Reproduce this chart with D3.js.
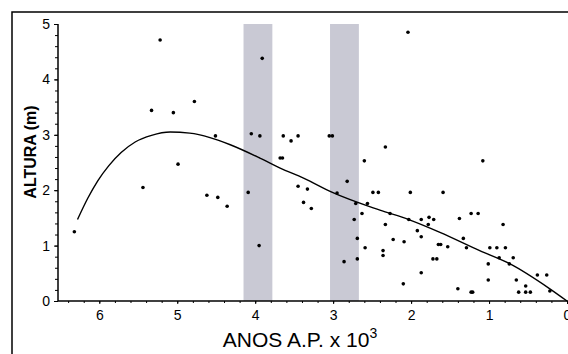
<!DOCTYPE html>
<html>
<head>
	<title>altura</title>
	<script type="text/javascript" src="https://cdn.jsdelivr.net/npm/d3@7"></script>
	<style type="text/css">
		body{ margin: 0; background: #fff; }
		text{ font-family: "Liberation Sans", Arial, sans-serif; fill: #000; }
		.tick text{ font-size: 14px; }
		.axis-title{ font-size: 21px; }
		.y-title{ font-size: 16px; font-weight: bold; }
	</style>
</head>
<body>
<svg width="568" height="354"></svg>
<script type="text/javascript">
	// anos A.P. (x 10^3) e altura (m)
	var anos = [5.22, 5.33, 5.05, 4.78, 4.99, 3.91, 4.51, 4.05, 3.94, 3.64, 3.54, 3.45, 3.05, 3.01, 3.68, 3.65,
		2.60, 2.04, 2.33, 1.08, 6.32, 5.44, 4.62, 4.48, 4.36, 4.09, 3.95, 3.45, 3.33, 3.38, 3.28, 2.82,
		2.95, 2.49, 2.42, 2.01, 1.59, 2.71, 2.56, 2.63, 2.73, 2.27, 2.33, 2.03, 1.87, 1.77, 1.71, 1.78,
		1.92, 1.87, 2.69, 2.23, 2.09, 2.59, 2.36, 2.36, 1.65, 1.62, 1.53, 2.86, 2.69, 1.72, 1.67, 1.87,
		2.10, 1.38, 1.23, 1.14, 0.82, 1.33, 1.29, 0.99, 0.90, 0.79, 0.87, 0.69, 1.01, 0.74, 1.01, 0.65,
		0.38, 0.26, 0.53, 1.40, 1.23, 1.21, 0.62, 0.53, 0.47, 0.22];
	var alturas = [4.71, 3.44, 3.40, 3.60, 2.47, 4.38, 2.98, 3.02, 2.98, 2.98, 2.89, 2.98, 2.98, 2.98, 2.58, 2.58,
		2.53, 4.85, 2.78, 2.53, 1.25, 2.05, 1.91, 1.87, 1.71, 1.96, 1.00, 2.07, 2.02, 1.78, 1.67, 2.16,
		1.95, 1.96, 1.96, 1.96, 1.96, 1.76, 1.76, 1.58, 1.47, 1.58, 1.38, 1.47, 1.47, 1.51, 1.47, 1.38,
		1.27, 1.16, 1.13, 1.11, 1.07, 0.96, 0.91, 0.82, 1.02, 1.02, 0.98, 0.71, 0.76, 0.76, 0.76, 0.51,
		0.31, 1.49, 1.58, 1.58, 1.38, 1.13, 0.96, 0.96, 0.96, 0.96, 0.78, 0.78, 0.67, 0.67, 0.38, 0.38,
		0.47, 0.47, 0.27, 0.22, 0.16, 0.16, 0.16, 0.16, 0.16, 0.18];
	// curva ajustada
	var curvaAnos = [6.28, 6.15, 6.02, 5.88, 5.72, 5.54, 5.33, 5.09, 4.84, 4.58, 4.32, 3.94, 3.68, 3.38, 3.01,
		2.40, 2.03, 1.63, 1.12, 0.73, 0.22, 0];
	var curvaAltura = [1.47, 1.85, 2.17, 2.44, 2.68, 2.87, 2.99, 3.05, 3.03, 2.95, 2.82, 2.58, 2.40, 2.22, 1.96,
		1.64, 1.47, 1.24, 0.91, 0.67, 0.22, 0];
	// faixas cinzas
	var faixaInicio = [4.15, 3.04];
	var faixaFim = [3.78, 2.67];
	var xTicks = [6, 5, 4, 3, 2, 1, 0];
	var yTicks = [0, 1, 2, 3, 4, 5];

	var svg = d3.select("svg"),
		pLeft = 58, pRight = 567, pTop = 24, pBottom = 301,
		x = d3.scaleLinear().domain([6.53, 0]).range([pLeft, pRight]),
		y = d3.scaleLinear().domain([0, 5]).range([pBottom, pTop]);

	// moldura
	svg.append("rect").attr("x", 12).attr("y", 12).attr("width", 620).attr("height", 400)
		.attr("fill", "none").attr("stroke", "#000").attr("stroke-width", 1.5);

	// faixas
	svg.append("g").selectAll("rect").data(faixaInicio).enter().append("rect")
		.attr("x", (d) => x(d))
		.attr("width", (d, i) => x(faixaFim[i]) - x(d))
		.attr("y", y(5))
		.attr("height", y(0) - y(5))
		.attr("fill", "#c9c9d4");

	// eixos: ticks menores a cada 0.2
	var minor = d3.range(0, 6.6, 0.2).filter((d) => d <= 6.53);
	svg.append("g").attr("transform", `translate(0,${pBottom})`)
		.call(d3.axisBottom(x).tickValues(minor).tickSize(2).tickFormat(""))
		.call((g) => g.select(".domain").remove());
	svg.append("g").attr("transform", `translate(${pLeft},0)`)
		.call(d3.axisLeft(y).tickValues(d3.range(0, 5.01, 0.2)).tickSize(3).tickFormat(""))
		.call((g) => g.select(".domain").remove());

	var xAxis = svg.append("g").attr("transform", `translate(0,${pBottom})`)
		.call(d3.axisBottom(x).tickValues(xTicks).tickSize(3).tickPadding(6).tickFormat(d3.format("d")));
	xAxis.select(".domain").attr("d", `M${pLeft},0H${pRight + 5}`).attr("stroke-width", 1.5);

	var yAxis = svg.append("g").attr("transform", `translate(${pLeft},0)`)
		.call(d3.axisLeft(y).tickValues(yTicks).tickSize(4).tickPadding(4).tickFormat(d3.format("d")));
	yAxis.select(".domain").attr("d", `M0,${pTop}V${pBottom}`).attr("stroke-width", 1.5);

	// curva
	var line = d3.line().x((d) => x(d)).y((d, i) => y(curvaAltura[i])).curve(d3.curveMonotoneX);
	svg.append("path").attr("d", line(curvaAnos))
		.attr("fill", "none").attr("stroke", "#000").attr("stroke-width", 1.4);

	// pontos
	svg.append("g").selectAll("circle").data(anos).enter().append("circle")
		.attr("cx", (d) => x(d))
		.attr("cy", (d, i) => y(alturas[i]))
		.attr("r", 1.8)
		.attr("fill", "#000");

	// titulos
	var xt = svg.append("text").attr("class", "axis-title")
		.attr("x", 300).attr("y", 347).attr("text-anchor", "middle");
	xt.append("tspan").text("ANOS A.P. x 10");
	xt.append("tspan").attr("dy", -9).attr("font-size", 14).text("3");

	svg.append("text").attr("class", "y-title")
		.attr("transform", "translate(36,152) rotate(-90)")
		.attr("text-anchor", "middle")
		.text("ALTURA (m)");
</script>
</body>
</html>
